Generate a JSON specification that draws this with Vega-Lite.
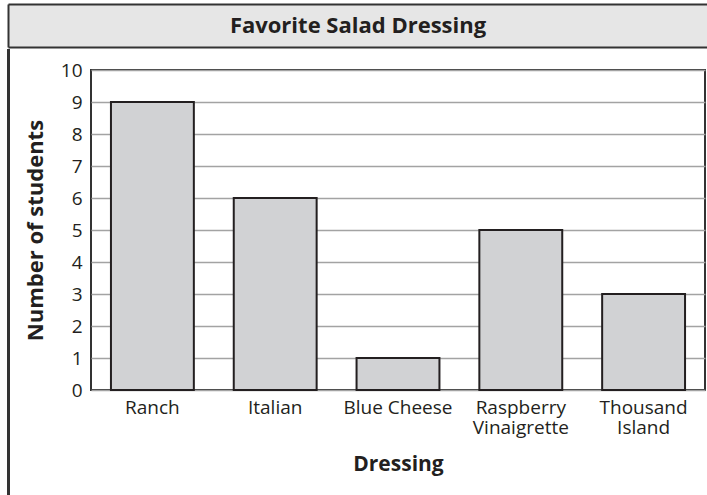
{
  "$schema": "https://vega.github.io/schema/vega-lite/v6.json",
  "padding": {"left": 4, "top": 4, "right": 0, "bottom": 0},
  "background": "white",
  "data": {"values": [
    {"dressing": "Ranch", "students": 9},
    {"dressing": "Italian", "students": 6},
    {"dressing": "Blue Cheese", "students": 1},
    {"dressing": "Raspberry Vinaigrette", "students": 5},
    {"dressing": "Thousand Island", "students": 3}
  ]},
  "spacing": 0,
  "vconcat": [
    {
      "width": 700,
      "height": 43,
      "view": {"fill": "#e6e6e6", "stroke": null},
      "data": {"values": [{"title": "Favorite Salad Dressing", "pos": 0.5}]},
      "mark": {"type": "text", "font": "Open Sans", "fontWeight": "bold", "fontSize": 22, "color": "#231f20", "baseline": "middle", "align": "center"},
      "encoding": {
        "text": {"field": "title"},
        "y": {
          "field": "pos",
          "type": "quantitative",
          "scale": {"domain": [0, 1], "nice": false},
          "axis": {"title": null, "labels": false, "ticks": false, "domain": true, "domainColor": "#333333", "domainWidth": 2, "grid": true, "gridColor": "#333333", "gridWidth": 2, "gridOpacity": 1, "values": [0, 1]}
        }
      }
    },
    {
      "spacing": 10,
      "hconcat": [
        {
          "width": 1,
          "height": 444,
          "view": {"stroke": "#333333", "strokeWidth": 2},
          "mark": {"type": "point", "opacity": 0},
          "encoding": {}
        },
        {
          "spacing": 6,
          "vconcat": [
            {
              "width": 614,
              "height": 1,
              "view": {"stroke": null},
              "mark": {"type": "point", "opacity": 0},
              "encoding": {}
            },
            {
              "width": 614,
              "height": 320,
              "view": {"stroke": "#333333", "strokeWidth": 2},
              "mark": {"type": "bar", "fill": "#d1d2d4", "stroke": "#231f20", "strokeWidth": 2},
              "encoding": {
                "x": {
                  "field": "dressing",
                  "type": "nominal",
                  "sort": null,
                  "scale": {"paddingInner": 0.325, "paddingOuter": 0.1625},
                  "axis": {
                    "title": "Dressing",
                    "labelAngle": 0,
                    "ticks": false,
                    "domain": false,
                    "labelPadding": 8,
                    "labelLineHeight": 20,
                    "labelExpr": "datum.label == 'Raspberry Vinaigrette' ? ['Raspberry', 'Vinaigrette'] : datum.label == 'Thousand Island' ? ['Thousand', 'Island'] : datum.label",
                    "titlePadding": 16
                  }
                },
                "y": {
                  "field": "students",
                  "type": "quantitative",
                  "scale": {"domain": [0, 10], "nice": false},
                  "axis": {
                    "title": "Number of students",
                    "values": [0, 1, 2, 3, 4, 5, 6, 7, 8, 9, 10],
                    "ticks": false,
                    "domain": false,
                    "grid": true,
                    "gridColor": "#a3a3a3",
                    "gridWidth": 1.5,
                    "gridOpacity": 1,
                    "labelPadding": 9,
                    "titlePadding": 13
                  }
                }
              }
            }
          ]
        }
      ]
    }
  ],
  "config": {
    "view": {"stroke": null},
    "axis": {
      "labelFont": "Open Sans",
      "labelFontSize": 19,
      "labelColor": "#231f20",
      "titleFont": "Open Sans",
      "titleFontSize": 21,
      "titleFontWeight": "bold",
      "titleColor": "#231f20"
    },
    "axisY": {"titleFontSize": 22}
  }
}
